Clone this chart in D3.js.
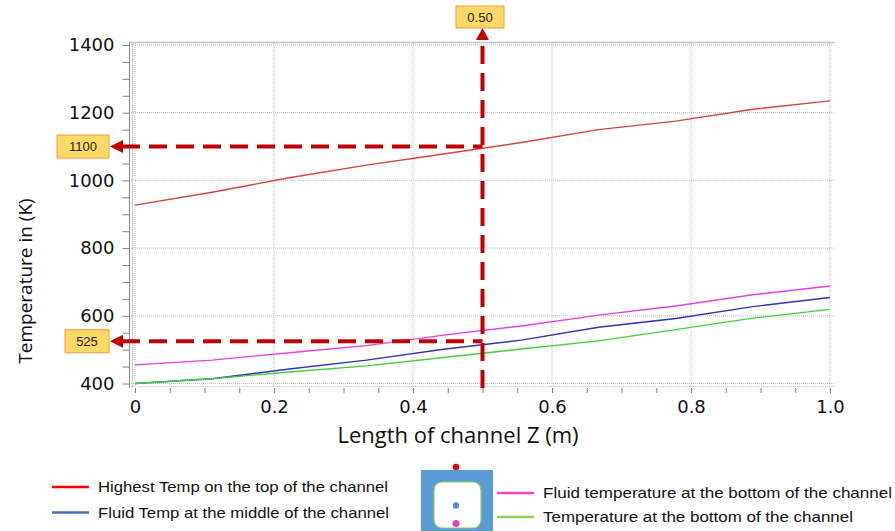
<!DOCTYPE html>
<html>
<head>
<meta charset="utf-8">
<script src="https://cdn.jsdelivr.net/npm/d3@7"></script>
<style>
  body { margin: 0; background: #fff; }
  svg { display: block; }
</style>
</head>
<body>
<svg id="chart" width="895" height="531"></svg>
<script>
const colours = {
  red: '#d84040',
  blue: '#3030c0',
  magenta: '#e040e0',
  green: '#40d040',
  annot: '#c00000',
  grid: '#bdbdbd',
  boxFill: '#ffd966',
  boxStroke: '#f59a3c',
};

// positions along the channel (m)
const zValues = [0, 0.111, 0.222, 0.333, 0.444, 0.556, 0.667, 0.778, 0.889, 1.0];
const highestTop = [927, 965, 1008, 1045, 1078, 1112, 1150, 1175, 1210, 1235];
const fluidMiddle = [400, 414, 443, 469, 501, 528, 566, 592, 627, 654];
const fluidBottom = [455, 469, 491, 512, 543, 570, 602, 629, 662, 688];
const bottomTemp = [400, 414, 434, 452, 477, 502, 526, 559, 593, 619];

const xTicks = [0, 0.2, 0.4, 0.6, 0.8, 1.0];
const yTicks = [400, 600, 800, 1000, 1200, 1400];

const markZ = 0.5;
const markTemps = [1100, 525];

const series = [
  { name: 'Highest Temp on the top of the channel', values: highestTop, colour: colours.red, legendColour: '#ff0000' },
  { name: 'Fluid Temp at the middle of the channel', values: fluidMiddle, colour: colours.blue, legendColour: '#4472c4' },
  { name: 'Fluid temperature at the bottom of the channel', values: fluidBottom, colour: colours.magenta, legendColour: '#ff40c8' },
  { name: 'Temperature at the bottom of the channel', values: bottomTemp, colour: colours.green, legendColour: '#92d050' },
];

const sel = d3.select('#chart');

const xScale = d3.scaleLinear().domain([0, 1]).range([135, 830]);
const yScale = d3.scaleLinear().domain([400, 1400]).range([383.5, 45]);

// grid
const grid = sel.append('g');
grid.selectAll('.vgrid')
  .data(xTicks)
  .enter()
  .append('line')
  .attr('x1', d => xScale(d)).attr('x2', d => xScale(d))
  .attr('y1', 43).attr('y2', 387)
  .attr('stroke', colours.grid)
  .attr('stroke-dasharray', '1,1');
grid.selectAll('.hgrid')
  .data(yTicks)
  .enter()
  .append('line')
  .attr('x1', 131).attr('x2', 834)
  .attr('y1', d => yScale(d)).attr('y2', d => yScale(d))
  .attr('stroke', colours.grid)
  .attr('stroke-dasharray', '1,1');

// frame
sel.append('line')
  .attr('x1', 129).attr('x2', 835).attr('y1', 42.5).attr('y2', 42.5)
  .attr('stroke', '#c4c4c4').attr('stroke-width', 1.5);
sel.append('line')
  .attr('x1', 129.5).attr('x2', 129.5).attr('y1', 42).attr('y2', 388)
  .attr('stroke', '#8a8a8a');
sel.append('line')
  .attr('x1', 132.5).attr('x2', 132.5).attr('y1', 42).attr('y2', 388)
  .attr('stroke', '#cfcfcf');
sel.append('line')
  .attr('x1', 131).attr('x2', 834).attr('y1', 386.5).attr('y2', 386.5)
  .attr('stroke', '#c4c4c4').attr('stroke-dasharray', '1,1');

// y axis
const yAxis = d3.axisLeft(yScale)
  .tickValues(d3.range(400, 1401, 50))
  .tickSize(7)
  .tickFormat(d => (yTicks.includes(d) ? d : ''));
const yAxisG = sel.append('g')
  .attr('transform', 'translate(129.5,0)')
  .call(yAxis);
yAxisG.select('.domain').remove();
yAxisG.selectAll('line').attr('stroke', '#808080');
yAxisG.selectAll('text')
  .attr('x', -15)
  .attr('font-family', 'DejaVu Sans')
  .attr('font-size', 18)
  .attr('fill', '#111');

// x axis
const xAxis = d3.axisBottom(xScale)
  .tickValues(d3.range(0, 21).map(i => i / 20))
  .tickSize(5)
  .tickFormat(d => {
    const r = Math.round(d * 100) / 100;
    if (!xTicks.some(t => Math.abs(t - r) < 1e-6)) return '';
    return r === 0 ? '0' : r.toFixed(1);
  });
const xAxisG = sel.append('g')
  .attr('transform', 'translate(0,388)')
  .call(xAxis);
xAxisG.select('.domain').remove();
xAxisG.selectAll('line').attr('stroke', '#808080');
xAxisG.selectAll('text')
  .attr('y', 12)
  .attr('font-family', 'DejaVu Sans')
  .attr('font-size', 18)
  .attr('fill', '#111');

// axis titles
sel.append('text')
  .attr('x', 458).attr('y', 443)
  .attr('text-anchor', 'middle')
  .attr('font-family', 'Open Sans')
  .attr('font-size', 22)
  .attr('fill', '#111')
  .text('Length of channel Z (m)');
sel.append('text')
  .attr('transform', 'translate(32,281) rotate(-90)')
  .attr('text-anchor', 'middle')
  .attr('font-family', 'Open Sans')
  .attr('font-size', 19)
  .attr('fill', '#111')
  .text('Temperature in (K)');

// series lines
const line = d3.line()
  .x((d, i) => xScale(zValues[i]))
  .y(d => yScale(d));
sel.append('g')
  .selectAll('.series')
  .data(series)
  .enter()
  .append('path')
  .attr('d', d => line(d.values))
  .attr('fill', 'none')
  .attr('stroke', d => d.colour)
  .attr('stroke-width', 1.4);

// dashed read-off lines
const annot = sel.append('g');
const mx = xScale(markZ);
markTemps.forEach(t => {
  const y = yScale(t);
  annot.append('line')
    .attr('x1', 122).attr('x2', mx)
    .attr('y1', y).attr('y2', y)
    .attr('stroke', colours.annot)
    .attr('stroke-width', 4)
    .attr('stroke-dasharray', '18,9');
  annot.append('path')
    .attr('d', `M${110},${y}L${123},${y - 6.5}L${123},${y + 6.5}Z`)
    .attr('fill', colours.annot);
});
annot.append('line')
  .attr('x1', mx).attr('x2', mx)
  .attr('y1', 388).attr('y2', 38)
  .attr('stroke', colours.annot)
  .attr('stroke-width', 4)
  .attr('stroke-dasharray', '18,9');
annot.append('path')
  .attr('d', `M${mx},28L${mx - 6.5},40L${mx + 6.5},40Z`)
  .attr('fill', colours.annot);

// value boxes
const boxes = [
  { label: '0.50', x: 456, y: 6, w: 48, h: 22 },
  { label: String(markTemps[0]), x: 57, y: yScale(markTemps[0]) - 11.5, w: 52, h: 23 },
  { label: String(markTemps[1]), x: 65, y: yScale(markTemps[1]) - 11.5, w: 44, h: 23 },
];
const boxG = sel.append('g')
  .selectAll('.box')
  .data(boxes)
  .enter()
  .append('g');
boxG.append('rect')
  .attr('x', d => d.x).attr('y', d => d.y)
  .attr('width', d => d.w).attr('height', d => d.h)
  .attr('fill', colours.boxFill)
  .attr('stroke', colours.boxStroke);
boxG.append('text')
  .attr('x', d => d.x + d.w / 2)
  .attr('y', d => d.y + d.h / 2 + 4.5)
  .attr('text-anchor', 'middle')
  .attr('font-family', 'Liberation Sans')
  .attr('font-size', 13)
  .attr('fill', '#222')
  .text(d => d.label);

// legend
const legendPos = [
  { x: 52, y: 487, tx: 98, tw: 290 },
  { x: 52, y: 512.5, tx: 98, tw: 291 },
  { x: 497, y: 493, tx: 543, tw: 349 },
  { x: 497, y: 517, tx: 543, tw: 310 },
];
const legend = sel.append('g')
  .selectAll('.legend-item')
  .data(series)
  .enter()
  .append('g');
legend.append('line')
  .attr('x1', (d, i) => legendPos[i].x)
  .attr('x2', (d, i) => legendPos[i].x + 37)
  .attr('y1', (d, i) => legendPos[i].y)
  .attr('y2', (d, i) => legendPos[i].y)
  .attr('stroke', d => d.legendColour)
  .attr('stroke-width', 2.5);
legend.append('text')
  .attr('x', (d, i) => legendPos[i].tx)
  .attr('y', (d, i) => legendPos[i].y + 5)
  .attr('textLength', (d, i) => legendPos[i].tw)
  .attr('lengthAdjust', 'spacingAndGlyphs')
  .attr('font-family', 'Liberation Sans Narrow, Liberation Sans')
  .attr('font-size', 15)
  .attr('fill', '#111')
  .text(d => d.name);

// channel cross-section sketch
const sketch = sel.append('g');
sketch.append('rect')
  .attr('x', 421).attr('y', 470).attr('width', 72).attr('height', 62)
  .attr('fill', '#5b9bd5');
sketch.append('rect')
  .attr('x', 434).attr('y', 482).attr('width', 47).attr('height', 46)
  .attr('rx', 8)
  .attr('fill', '#fff')
  .attr('stroke', '#92d050')
  .attr('stroke-width', 1.2);
sketch.append('circle').attr('cx', 456).attr('cy', 467).attr('r', 3.2).attr('fill', '#e00000');
sketch.append('circle').attr('cx', 456).attr('cy', 505.5).attr('r', 3.2).attr('fill', '#5b8fd0');
sketch.append('circle').attr('cx', 456).attr('cy', 523.5).attr('r', 3.6).attr('fill', '#e040c0');
</script>
</body>
</html>
